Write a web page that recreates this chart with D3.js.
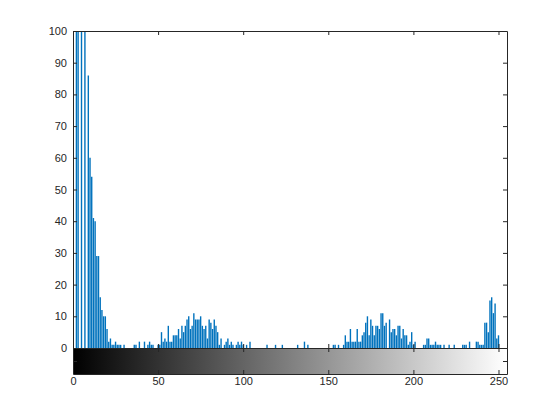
<!DOCTYPE html>
<html>
<head>
<meta charset="utf-8">
<script src="https://cdn.jsdelivr.net/npm/d3@7"></script>
<style>
  body { margin: 0; background: #fff; }
  svg text { font-family: "Liberation Sans", Arial, Helvetica, sans-serif; font-size: 11px; fill: #262626; }
  .axis path, .axis line { stroke: #262626; }
</style>
</head>
<body>
<svg id="chart"></svg>
<script>
// gray levels 0..255 and pixel count per level (y is clipped at 100)
const levels = d3.range(256)
const counts = [
  100, 0, 100, 100, 0, 100, 0, 100, 0, 86, 60, 54, 41, 40, 29, 29,
  16, 12, 10, 10, 6, 2, 3, 1, 1, 2, 1, 1, 1, 0, 1, 0,
  0, 0, 0, 0, 1, 1, 0, 2, 0, 0, 2, 0, 1, 2, 1, 1,
  0, 0, 1, 1, 5, 2, 3, 2, 7, 2, 2, 4, 4, 4, 6, 3,
  7, 5, 7, 9, 10, 6, 7, 11, 9, 9, 9, 10, 7, 6, 7, 3,
  9, 8, 6, 9, 7, 5, 1, 3, 0, 1, 2, 3, 1, 2, 1, 0,
  1, 2, 1, 2, 1, 0, 1, 0, 2, 0, 0, 0, 0, 0, 0, 0,
  0, 0, 1, 0, 0, 0, 0, 1, 0, 0, 0, 1, 0, 0, 0, 0,
  0, 0, 0, 0, 1, 0, 0, 0, 2, 0, 1, 0, 0, 0, 0, 0,
  0, 0, 0, 0, 0, 0, 0, 0, 0, 1, 1, 0, 1, 0, 0, 1,
  4, 2, 2, 6, 2, 2, 2, 6, 2, 2, 4, 5, 8, 10, 4, 9,
  7, 4, 7, 7, 6, 11, 11, 7, 8, 0, 9, 5, 6, 6, 4, 7,
  7, 3, 6, 4, 4, 1, 2, 5, 1, 2, 0, 0, 0, 0, 1, 1,
  3, 3, 1, 1, 1, 2, 1, 1, 1, 0, 1, 0, 0, 1, 0, 0,
  1, 0, 0, 0, 0, 1, 1, 1, 0, 2, 0, 0, 0, 2, 2, 1,
  1, 1, 8, 8, 5, 15, 16, 11, 14, 3, 4, 0, 0, 0, 0, 0
]
const xTicks = [0, 50, 100, 150, 200, 250]
const yTicks = [0, 10, 20, 30, 40, 50, 60, 70, 80, 90, 100]

const W = 560, H = 420
const plotLeft = 73, plotRight = 507, plotTop = 31, plotBottom = 348, barBottom = 374

const svg = d3.select("#chart").attr("width", W).attr("height", H)

let x = d3.scaleLinear().domain([0, 255]).range([plotLeft, plotRight])
let y = d3.scaleLinear().domain([0, 100]).range([plotBottom, plotTop])
let yBar = d3.scaleLinear().domain([0, 1]).range([barBottom, plotBottom])

let defs = svg.append("defs")
defs.append("clipPath").attr("id", "plotclip")
  .append("rect")
  .attr("x", plotLeft).attr("y", plotTop)
  .attr("width", plotRight - plotLeft).attr("height", plotBottom - plotTop)

// histogram stems
svg.append("g")
  .attr("clip-path", "url(#plotclip)")
  .selectAll("line")
  .data(levels.filter(d => counts[d] > 0))
  .enter()
  .append("line")
  .attr("x1", d => x(d)).attr("x2", d => x(d))
  .attr("y1", y(0))
  .attr("y2", d => y(Math.min(counts[d], 101)))
  .attr("stroke", "#0072BD")
  .attr("stroke-width", 1.4)

// gray colorbar under the histogram
let grad = defs.append("linearGradient")
  .attr("id", "graybar")
  .attr("x1", "0%").attr("x2", "100%")
grad.append("stop").attr("offset", "0%").attr("stop-color", "#000")
grad.append("stop").attr("offset", "100%").attr("stop-color", "#fff")

svg.append("rect")
  .attr("x", plotLeft).attr("y", plotBottom)
  .attr("width", plotRight - plotLeft).attr("height", barBottom - plotBottom)
  .attr("fill", "url(#graybar)")

// histogram axes (box with inward ticks)
svg.append("g").attr("class", "axis")
  .attr("transform", `translate(${plotLeft},0)`)
  .call(d3.axisLeft(y).tickValues(yTicks).tickSizeInner(-4).tickSizeOuter(0).tickPadding(6))

svg.append("g").attr("class", "axis")
  .attr("transform", `translate(${plotRight},0)`)
  .call(d3.axisRight(y).tickValues(yTicks).tickSizeInner(-4).tickSizeOuter(0).tickFormat(""))

svg.append("g").attr("class", "axis")
  .attr("transform", `translate(0,${plotTop})`)
  .call(d3.axisTop(x).tickValues(xTicks).tickSizeInner(-4).tickSizeOuter(0).tickFormat(""))

svg.append("g").attr("class", "axis")
  .attr("transform", `translate(0,${plotBottom})`)
  .call(d3.axisBottom(x).tickValues(xTicks).tickSizeInner(-4).tickSizeOuter(0).tickFormat(""))

// colorbar axes
svg.append("g").attr("class", "axis")
  .attr("transform", `translate(0,${plotBottom})`)
  .call(d3.axisTop(x).tickValues(xTicks).tickSizeInner(-4).tickSizeOuter(0).tickFormat(""))

svg.append("g").attr("class", "axis")
  .attr("transform", `translate(0,${barBottom})`)
  .call(d3.axisBottom(x).tickValues(xTicks).tickSizeInner(-4).tickSizeOuter(0).tickPadding(3))

svg.append("g").attr("class", "axis")
  .attr("transform", `translate(${plotLeft},0)`)
  .call(d3.axisLeft(yBar).tickValues([0.5]).tickSizeInner(-4).tickSizeOuter(0).tickFormat(""))

svg.append("g").attr("class", "axis")
  .attr("transform", `translate(${plotRight},0)`)
  .call(d3.axisRight(yBar).tickValues([0.5]).tickSizeInner(-4).tickSizeOuter(0).tickFormat(""))
</script>
</body>
</html>
